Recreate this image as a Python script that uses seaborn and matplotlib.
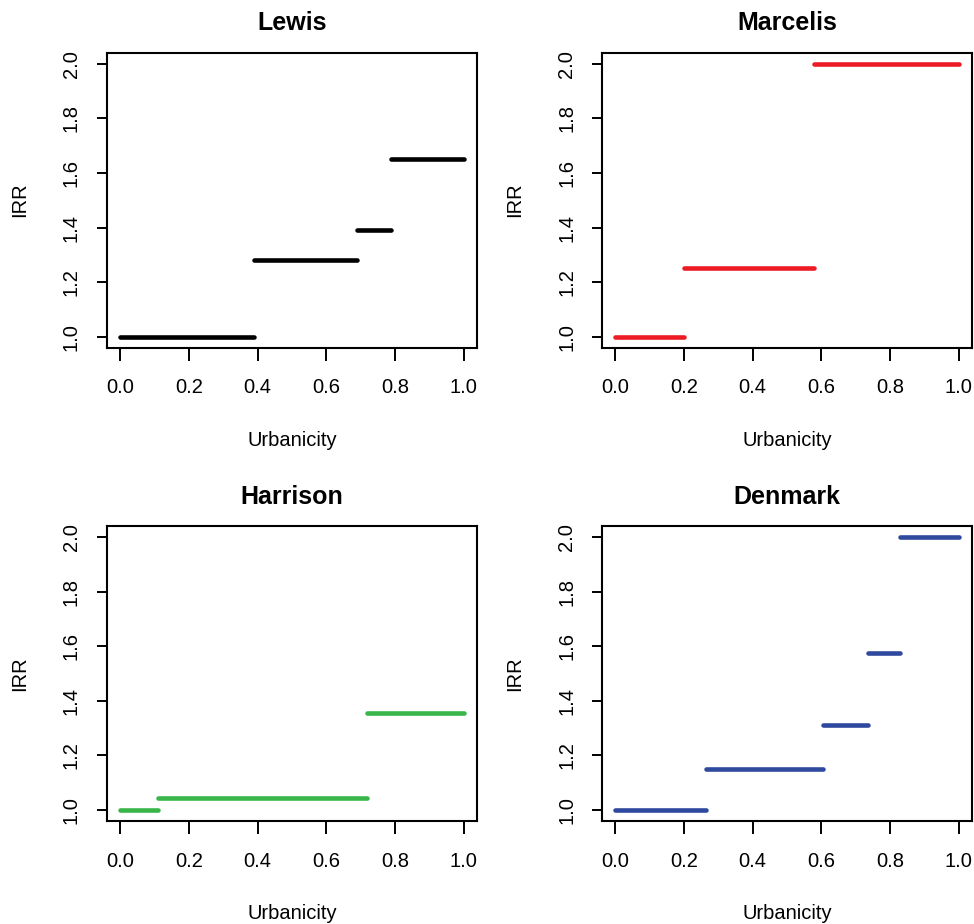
import pandas as pd
import matplotlib.pyplot as plt
import seaborn as sns

# Step-function IRR estimates by urbanicity
studies = ['Lewis', 'Marcelis', 'Harrison', 'Denmark']
colors = {'Lewis': 'black', 'Marcelis': '#ED1C24',
          'Harrison': '#39B54A', 'Denmark': '#2E499D'}

lewis_breaks = [0.0, 0.39, 0.69, 0.79, 1.0]
lewis_irr = [1.00, 1.28, 1.39, 1.65]

marcelis_breaks = [0.0, 0.20, 0.58, 1.0]
marcelis_irr = [1.00, 1.25, 2.00]

harrison_breaks = [0.0, 0.11, 0.72, 1.0]
harrison_irr = [1.00, 1.045, 1.355]

denmark_breaks = [0.0, 0.265, 0.605, 0.735, 0.83, 1.0]
denmark_irr = [1.00, 1.15, 1.31, 1.575, 2.00]

steps = {
    'Lewis': (lewis_breaks, lewis_irr),
    'Marcelis': (marcelis_breaks, marcelis_irr),
    'Harrison': (harrison_breaks, harrison_irr),
    'Denmark': (denmark_breaks, denmark_irr),
}

x_ticks = [0.0, 0.2, 0.4, 0.6, 0.8, 1.0]
y_ticks = [1.0, 1.2, 1.4, 1.6, 1.8, 2.0]

# long format: each segment is two points sharing a unit id
rows = []
for study, (breaks, irr) in steps.items():
    for k, val in enumerate(irr):
        rows.append({'study': study, 'segment': k, 'urbanicity': breaks[k], 'irr': val})
        rows.append({'study': study, 'segment': k, 'urbanicity': breaks[k + 1], 'irr': val})
df = pd.DataFrame(rows)

sns.set_style("ticks")
plt.rcParams['font.family'] = ['Liberation Sans', 'DejaVu Sans']
plt.rcParams.update({'text.color': 'black', 'axes.labelcolor': 'black',
                     'xtick.color': 'black', 'ytick.color': 'black'})

fig = plt.figure(figsize=(9.74, 9.24), dpi=100)

# axes positions (fractions) to mimic R's par(mfrow=c(2,2))
positions = {
    'Lewis': [0.1095, 0.6237, 0.3805, 0.3193],
    'Marcelis': [0.6178, 0.6237, 0.3805, 0.3193],
    'Harrison': [0.1095, 0.1115, 0.3805, 0.3193],
    'Denmark': [0.6178, 0.1115, 0.3805, 0.3193],
}

for study in studies:
    ax = fig.add_axes(positions[study])
    sub = df[df['study'] == study]
    sns.lineplot(data=sub, x='urbanicity', y='irr', units='segment',
                 estimator=None, color=colors[study], lw=3.3,
                 solid_capstyle='round', ax=ax, legend=False)

    ax.set_xlim(-0.04, 1.04)
    ax.set_ylim(0.96, 2.04)
    ax.set_xticks(x_ticks)
    ax.set_yticks(y_ticks)
    ax.set_xticklabels([f"{t:.1f}" for t in x_ticks])
    ax.set_yticklabels([f"{t:.1f}" for t in y_ticks], rotation=90, va='center')

    ax.tick_params(axis='x', length=9, width=1.4, pad=13, labelsize=14.5)
    ax.tick_params(axis='y', length=7.5, width=1.4, pad=11, labelsize=14.5)
    for sp in ax.spines.values():
        sp.set_visible(True)
        sp.set_linewidth(1.5)
        sp.set_color('black')

    ax.set_title(study, fontsize=18, fontweight='bold', pad=16)
    ax.set_xlabel('Urbanicity', fontsize=14.5, labelpad=24)
    ax.set_ylabel('IRR', fontsize=14.5, labelpad=24)

plt.savefig('out.png', dpi=100)
